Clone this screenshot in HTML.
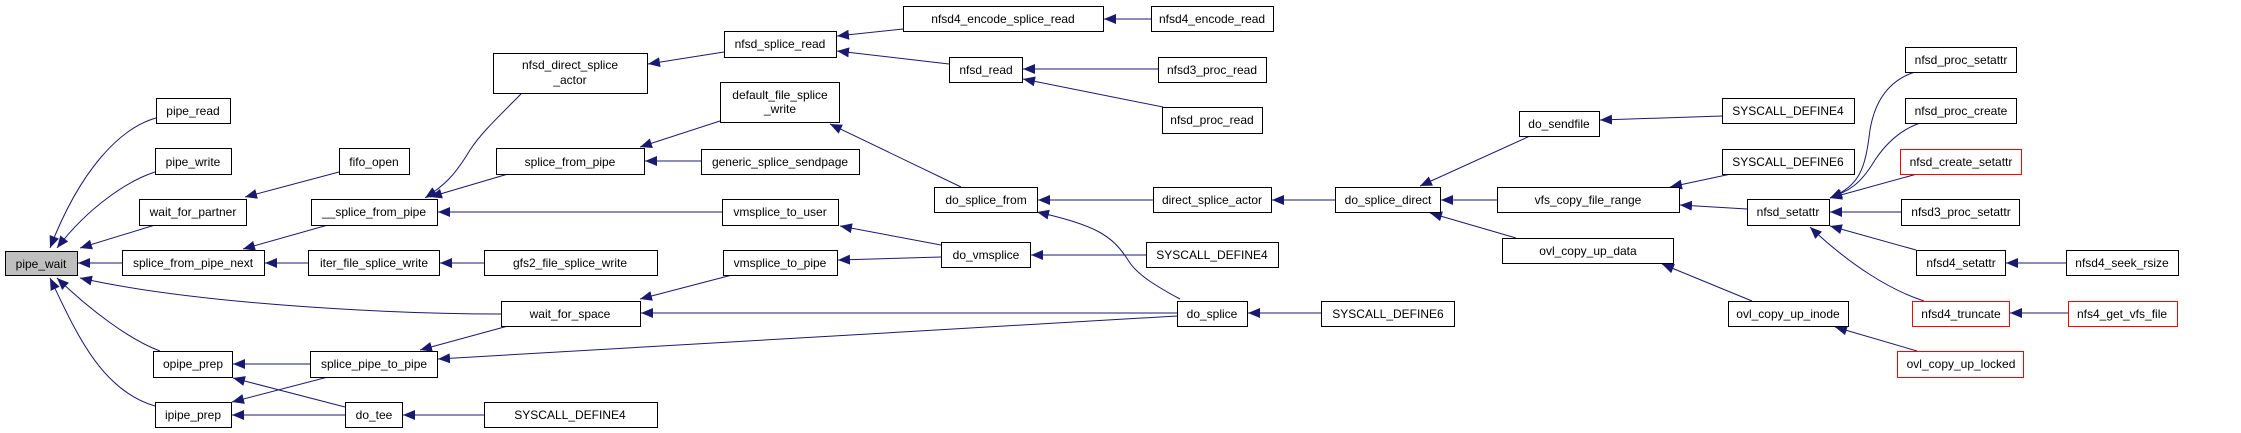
<!DOCTYPE html>
<html><head><meta charset="utf-8"><style>
html,body{margin:0;padding:0;background:#fff;}
svg{display:block;}
text{font-family:"Liberation Sans",Arial,sans-serif;font-size:12px;fill:#000;}
</style></head><body>
<svg width="2241" height="433" viewBox="0 0 2241 433" xmlns="http://www.w3.org/2000/svg">
<defs>
<marker id="a" markerUnits="userSpaceOnUse" markerWidth="13" markerHeight="10" refX="12" refY="5" orient="auto">
<path d="M0,0 L12,5 L0,10 Z" fill="#191970"/>
</marker>
</defs>
<g fill="none" stroke="#191970" stroke-width="1" marker-end="url(#a)">
<path d="M156,118 C120,128 80,170 50,248"/>
<path d="M155,172 C130,180 90,205 57,248"/>
<path d="M155,225 L80,248"/>
<path d="M122,263 L78,263"/>
<path d="M501,314 C400,314 200,305 80,278"/>
<path d="M160,351 C130,340 90,310 57,278"/>
<path d="M155,406 C100,390 75,330 50,278"/>
<path d="M339,172 L245,197"/>
<path d="M328,225 L243,249"/>
<path d="M308,263 L265,263"/>
<path d="M484,263 L440,263"/>
<path d="M521,94 C490,125 480,135 470,150 C455,175 445,185 425,198"/>
<path d="M508,174 L430,197"/>
<path d="M722,212 L438,212"/>
<path d="M484,415 L403,415"/>
<path d="M310,364 L233,364"/>
<path d="M328,377 L232,402"/>
<path d="M345,407 L233,378"/>
<path d="M345,415 L232,415"/>
<path d="M508,326 L420,350"/>
<path d="M1177,316 L438,359"/>
<path d="M1177,313 L641,313"/>
<path d="M732,275 L640,299"/>
<path d="M724,52 L648,64"/>
<path d="M720,121 L640,147"/>
<path d="M701,161 L645,161"/>
<path d="M903,29 L837,36"/>
<path d="M949,64 L837,51"/>
<path d="M1151,19 L1104,19"/>
<path d="M1158,69 L1023,69"/>
<path d="M1163,107 L1023,79"/>
<path d="M961,187 L830,124"/>
<path d="M1153,200 L1038,200"/>
<path d="M1180,299 C1150,283 1135,272 1128,260 C1112,235 1095,225 1037,212"/>
<path d="M941,245 L840,226"/>
<path d="M941,257 L838,260"/>
<path d="M1146,255 L1031,255"/>
<path d="M1321,313 L1248,313"/>
<path d="M1335,200 L1272,200"/>
<path d="M1530,136 L1420,186"/>
<path d="M1497,200 L1441,200"/>
<path d="M1516,238 L1430,213"/>
<path d="M1722,116 L1600,120"/>
<path d="M1731,174 L1670,187"/>
<path d="M1747,209 L1680,205"/>
<path d="M1752,301 L1662,264"/>
<path d="M1917,351 L1835,327"/>
<path d="M1915,72 C1890,80 1875,100 1870,130 C1865,170 1860,185 1830,198"/>
<path d="M1920,123 C1900,130 1885,145 1875,160 C1860,185 1850,190 1830,198"/>
<path d="M1917,174 L1830,198"/>
<path d="M1901,212 L1830,212"/>
<path d="M1916,250 L1830,226"/>
<path d="M1924,301 C1890,290 1850,265 1810,227"/>
<path d="M2066,263 L2006,263"/>
<path d="M2068,313 L2010,313"/>
</g>
<g stroke="#000" stroke-width="1" fill="#fff">
<rect x="5.5" y="251.5" width="72" height="24" fill="#bfbfbf"/>
<rect x="156.5" y="98.5" width="74" height="25"/>
<rect x="155.5" y="148.5" width="76" height="26"/>
<rect x="139.5" y="199.5" width="107" height="26"/>
<rect x="122.5" y="250.5" width="142" height="25"/>
<rect x="153.5" y="351.5" width="79" height="26"/>
<rect x="155.5" y="402.5" width="76" height="25"/>
<rect x="339.5" y="148.5" width="70" height="26"/>
<rect x="311.5" y="199.5" width="126" height="26"/>
<rect x="308.5" y="250.5" width="131" height="25"/>
<rect x="310.5" y="351.5" width="127" height="26"/>
<rect x="345.5" y="402.5" width="57" height="25"/>
<rect x="493.5" y="53.5" width="154" height="40"/>
<rect x="496.5" y="148.5" width="148" height="26"/>
<rect x="484.5" y="250.5" width="173" height="25"/>
<rect x="501.5" y="301.5" width="139" height="25"/>
<rect x="484.5" y="402.5" width="173" height="25"/>
<rect x="724.5" y="31.5" width="112" height="26"/>
<rect x="720.5" y="82.5" width="119" height="40"/>
<rect x="701.5" y="149.5" width="158" height="25"/>
<rect x="722.5" y="199.5" width="116" height="26"/>
<rect x="723.5" y="250.5" width="114" height="25"/>
<rect x="903.5" y="6.5" width="200" height="25"/>
<rect x="949.5" y="57.5" width="73" height="25"/>
<rect x="934.5" y="187.5" width="103" height="25"/>
<rect x="941.5" y="242.5" width="89" height="25"/>
<rect x="1151.5" y="6.5" width="122" height="25"/>
<rect x="1158.5" y="57.5" width="108" height="25"/>
<rect x="1162.5" y="107.5" width="100" height="26"/>
<rect x="1153.5" y="187.5" width="118" height="25"/>
<rect x="1146.5" y="242.5" width="132" height="25"/>
<rect x="1177.5" y="301.5" width="70" height="25"/>
<rect x="1321.5" y="301.5" width="133" height="25"/>
<rect x="1335.5" y="187.5" width="105" height="25"/>
<rect x="1519.5" y="111.5" width="80" height="25"/>
<rect x="1497.5" y="187.5" width="182" height="25"/>
<rect x="1502.5" y="238.5" width="171" height="25"/>
<rect x="1722.5" y="98.5" width="132" height="25"/>
<rect x="1722.5" y="149.5" width="132" height="25"/>
<rect x="1747.5" y="199.5" width="82" height="26"/>
<rect x="1728.5" y="301.5" width="120" height="25"/>
<rect x="1905.5" y="47.5" width="111" height="25"/>
<rect x="1905.5" y="98.5" width="111" height="25"/>
<rect x="1900.5" y="149.5" width="121" height="25" stroke="#ff0000"/>
<rect x="1901.5" y="199.5" width="118" height="26"/>
<rect x="1916.5" y="250.5" width="89" height="25"/>
<rect x="2066.5" y="250.5" width="112" height="25"/>
<rect x="1912.5" y="301.5" width="97" height="25" stroke="#ff0000"/>
<rect x="2068.5" y="301.5" width="109" height="25" stroke="#ff0000"/>
<rect x="1897.5" y="351.5" width="126" height="26" stroke="#ff0000"/>
</g>
<g text-anchor="middle">
<text x="41" y="268">pipe_wait</text>
<text x="193" y="115">pipe_read</text>
<text x="193" y="166">pipe_write</text>
<text x="193" y="216">wait_for_partner</text>
<text x="193" y="267">splice_from_pipe_next</text>
<text x="193" y="368">opipe_prep</text>
<text x="193" y="419">ipipe_prep</text>
<text x="374" y="166">fifo_open</text>
<text x="374" y="216">__splice_from_pipe</text>
<text x="374" y="267">iter_file_splice_write</text>
<text x="374" y="368">splice_pipe_to_pipe</text>
<text x="374" y="419">do_tee</text>
<text x="570" y="69">nfsd_direct_splice</text>
<text x="570" y="84">_actor</text>
<text x="570" y="166">splice_from_pipe</text>
<text x="570" y="267">gfs2_file_splice_write</text>
<text x="570" y="318">wait_for_space</text>
<text x="570" y="419">SYSCALL_DEFINE4</text>
<text x="780" y="48">nfsd_splice_read</text>
<text x="780" y="99">default_file_splice</text>
<text x="780" y="113">_write</text>
<text x="780" y="166">generic_splice_sendpage</text>
<text x="780" y="216">vmsplice_to_user</text>
<text x="780" y="267">vmsplice_to_pipe</text>
<text x="1003" y="23">nfsd4_encode_splice_read</text>
<text x="986" y="74">nfsd_read</text>
<text x="986" y="204">do_splice_from</text>
<text x="986" y="259">do_vmsplice</text>
<text x="1212" y="23">nfsd4_encode_read</text>
<text x="1212" y="74">nfsd3_proc_read</text>
<text x="1212" y="124">nfsd_proc_read</text>
<text x="1212" y="204">direct_splice_actor</text>
<text x="1212" y="259">SYSCALL_DEFINE4</text>
<text x="1212" y="318">do_splice</text>
<text x="1388" y="318">SYSCALL_DEFINE6</text>
<text x="1388" y="204">do_splice_direct</text>
<text x="1559" y="128">do_sendfile</text>
<text x="1588" y="204">vfs_copy_file_range</text>
<text x="1588" y="255">ovl_copy_up_data</text>
<text x="1788" y="115">SYSCALL_DEFINE4</text>
<text x="1788" y="166">SYSCALL_DEFINE6</text>
<text x="1788" y="216">nfsd_setattr</text>
<text x="1788" y="318">ovl_copy_up_inode</text>
<text x="1961" y="64">nfsd_proc_setattr</text>
<text x="1961" y="115">nfsd_proc_create</text>
<text x="1961" y="166">nfsd_create_setattr</text>
<text x="1961" y="216">nfsd3_proc_setattr</text>
<text x="1961" y="267">nfsd4_setattr</text>
<text x="1961" y="318">nfsd4_truncate</text>
<text x="1961" y="368">ovl_copy_up_locked</text>
<text x="2122" y="267">nfsd4_seek_rsize</text>
<text x="2122" y="318">nfs4_get_vfs_file</text>
</g>
</svg>
</body></html>
